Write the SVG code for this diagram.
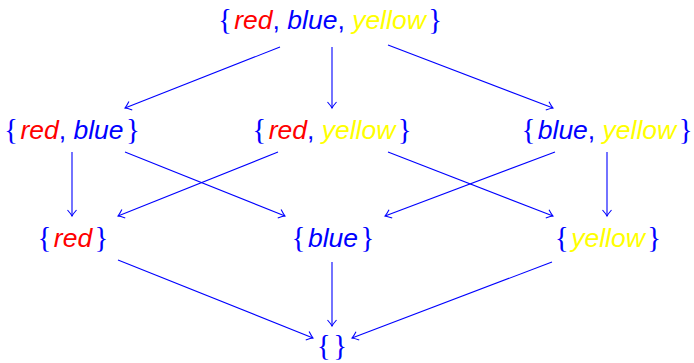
<svg xmlns="http://www.w3.org/2000/svg" width="694" height="363" viewBox="0 0 694 363">
<defs>
<style>
.lbl{font-family:"Liberation Sans","DejaVu Sans",sans-serif;font-size:26.5px;text-anchor:middle}
.it{font-style:italic}
.r{fill:#ff0000}
.b{fill:#0000ff}
.y{fill:#ffff00}
.br{fill:#0000ff;font-family:"Liberation Serif",serif;font-size:29px;font-weight:normal;font-style:normal}
.edge{stroke:#0000ff;stroke-width:1.1;fill:none;marker-end:url(#to)}
</style>
<marker id="to" markerUnits="userSpaceOnUse" markerWidth="14" markerHeight="14" refX="0" refY="0" viewBox="-8 -7 10 14" orient="auto" overflow="visible">
<path d="M-6,-4.5 Q-2,-1 0,0 Q-2,1 -6,4.5" fill="none" stroke="#0000ff" stroke-width="1.1"/>
</marker>
</defs>
<g id="connectors">
<line class="edge" x1="280" y1="47" x2="125" y2="108"/>
<line class="edge" x1="332" y1="47" x2="332" y2="108"/>
<line class="edge" x1="388" y1="45" x2="553" y2="108"/>
<line class="edge" x1="72" y1="152" x2="72" y2="216"/>
<line class="edge" x1="125" y1="152" x2="285" y2="216"/>
<line class="edge" x1="278" y1="152" x2="118" y2="216"/>
<line class="edge" x1="388" y1="152" x2="553" y2="216"/>
<line class="edge" x1="555" y1="152" x2="385" y2="216"/>
<line class="edge" x1="607" y1="152" x2="607" y2="216"/>
<line class="edge" x1="118" y1="260" x2="313" y2="338"/>
<line class="edge" x1="332" y1="262" x2="332" y2="326"/>
<line class="edge" x1="552" y1="262" x2="352" y2="338"/>
</g>
<g id="n-rby"><text class="lbl" x="330" y="29"><tspan class="br">{&#8202;</tspan><tspan class="it r">red</tspan><tspan class="b">, </tspan><tspan class="it b">blue</tspan><tspan class="b">, </tspan><tspan class="it y">yellow</tspan><tspan class="br">&#8202;}</tspan></text></g>
<g id="n-rb"><text class="lbl" x="72" y="139"><tspan class="br">{&#8202;</tspan><tspan class="it r">red</tspan><tspan class="b">, </tspan><tspan class="it b">blue</tspan><tspan class="br">&#8202;}</tspan></text></g>
<g id="n-ry"><text class="lbl" x="332" y="139"><tspan class="br">{&#8202;</tspan><tspan class="it r">red</tspan><tspan class="b">, </tspan><tspan class="it y">yellow</tspan><tspan class="br">&#8202;}</tspan></text></g>
<g id="n-by"><text class="lbl" x="607" y="139"><tspan class="br">{&#8202;</tspan><tspan class="it b">blue</tspan><tspan class="b">, </tspan><tspan class="it y">yellow</tspan><tspan class="br">&#8202;}</tspan></text></g>
<g id="n-r"><text class="lbl" x="73" y="247"><tspan class="br">{&#8202;</tspan><tspan class="it r">red</tspan><tspan class="br">&#8202;}</tspan></text></g>
<g id="n-b"><text class="lbl" x="333" y="247"><tspan class="br">{&#8202;</tspan><tspan class="it b">blue</tspan><tspan class="br">&#8202;}</tspan></text></g>
<g id="n-y"><text class="lbl" x="608" y="247"><tspan class="br">{&#8202;</tspan><tspan class="it y">yellow</tspan><tspan class="br">&#8202;}</tspan></text></g>
<g id="n-empty"><text class="lbl" x="332" y="355"><tspan class="br">{&#8202;}</tspan></text></g>
</svg>
